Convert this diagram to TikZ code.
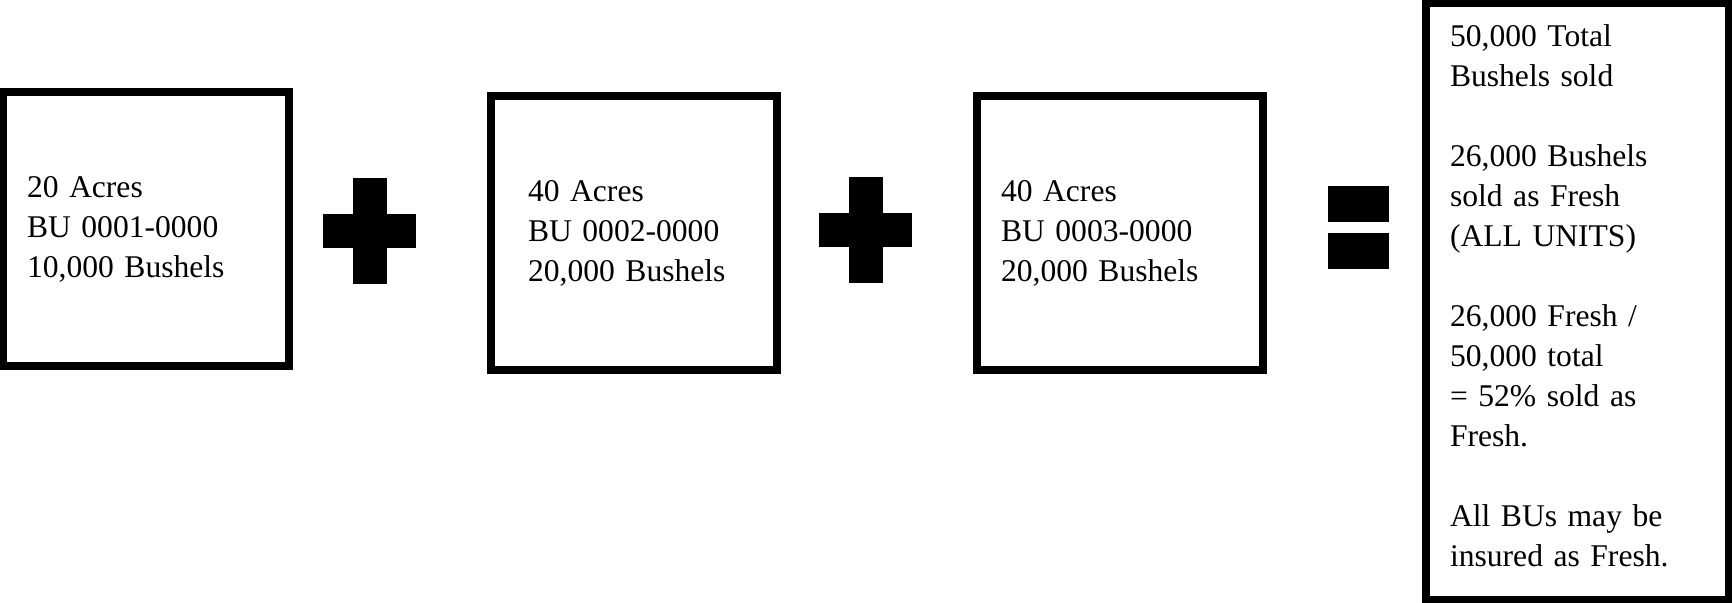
\documentclass[tikz,border=0pt]{standalone}
\usepackage{fontspec}
\setmainfont{Liberation Serif}
\usepackage{tikz}
\tikzstyle{unitbox} = [rectangle, minimum width=143pt, minimum height=137pt, text width=119pt, inner xsep=12pt, align=left, draw=black, line width=4pt]
\tikzstyle{totalbox} = [rectangle, minimum width=151.5pt, minimum height=298.5pt, draw=black, line width=4pt]
\tikzstyle{totaltext} = [rectangle, text width=127.5pt, inner xsep=12pt, align=left]
\tikzstyle{vbar} = [rectangle, fill=black, inner sep=0pt, minimum width=17pt, minimum height=53pt]
\tikzstyle{hbar} = [rectangle, fill=black, inner sep=0pt, minimum width=46.5pt, minimum height=17pt]
\tikzstyle{eqbar} = [rectangle, fill=black, inner sep=0pt, minimum width=30.5pt, minimum height=18pt]

\begin{document}
\begin{tikzpicture}[x=0.5pt, y=-0.5pt, font=\fontsize{15.8}{20}\selectfont, node distance=244pt]
	\useasboundingbox (0,0) rectangle (1732,603);
	\node (bu1) [unitbox] at (146,229) {20 Acres\\BU 0001-0000\\10,000 Bushels};
	\node (bu2) [unitbox, right of=bu1, yshift=-2.25pt, inner xsep=18.5pt, text width=106pt] {40 Acres\\BU 0002-0000\\20,000 Bushels};
	\node (bu3) [unitbox, right of=bu2, xshift=-1pt, yshift=0.25pt] {40 Acres\\BU 0003-0000\\20,000 Bushels};
	\node (total) [totalbox, right of=bu3, xshift=-15.25pt, yshift=-34.25pt] {};
	\node (totalsum) [totaltext, yshift=3pt] at (total) {50,000 Total\\Bushels sold\\[20pt]26,000 Bushels\\sold as Fresh\\(ALL UNITS)\\[20pt]26,000 Fresh /\\50,000 total\\= 52\% sold as\\Fresh.\\[20pt]All BUs may be\\insured as Fresh.};

	\node (plusAv) [vbar] at (370,231) {};
	\node (plusAh) [hbar] at (369.5,231) {};
	\node (plusBv) [vbar] at (865.5,230) {};
	\node (plusBh) [hbar] at (865.5,230) {};
	\node (eqtop) [eqbar] at (1358.5,204) {};
	\node (eqbot) [eqbar] at (1358.5,251) {};
\end{tikzpicture}
\end{document}
